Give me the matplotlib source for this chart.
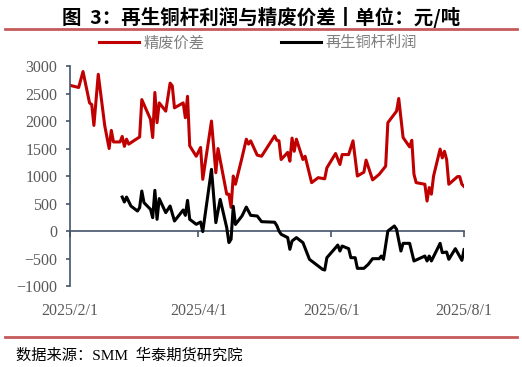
import numpy as np
import pandas as pd
import matplotlib
matplotlib.use("Agg")
import matplotlib.pyplot as plt
import matplotlib.dates as mdates
from matplotlib.lines import Line2D
from matplotlib.font_manager import FontProperties

# 精废价差 (red)
red_dates = ["2025-02-01", "2025-02-05", "2025-02-07", "2025-02-10", "2025-02-11", "2025-02-12",
             "2025-02-14", "2025-02-17", "2025-02-19", "2025-02-20", "2025-02-21", "2025-02-24",
             "2025-02-25", "2025-02-26", "2025-02-27", "2025-02-28", "2025-03-03", "2025-03-05",
             "2025-03-06", "2025-03-10", "2025-03-11", "2025-03-12", "2025-03-13", "2025-03-14",
             "2025-03-17", "2025-03-19", "2025-03-20", "2025-03-21", "2025-03-25", "2025-03-26",
             "2025-03-27", "2025-03-28", "2025-03-31", "2025-04-02", "2025-04-03", "2025-04-07",
             "2025-04-09", "2025-04-10", "2025-04-14", "2025-04-15", "2025-04-16", "2025-04-17",
             "2025-04-18", "2025-04-21", "2025-04-23", "2025-04-24", "2025-04-25", "2025-04-28",
             "2025-04-30", "2025-05-06", "2025-05-07", "2025-05-08", "2025-05-09", "2025-05-12",
             "2025-05-13", "2025-05-14", "2025-05-15", "2025-05-16", "2025-05-19", "2025-05-20",
             "2025-05-23", "2025-05-26", "2025-05-29", "2025-05-30", "2025-06-03", "2025-06-05",
             "2025-06-06", "2025-06-09", "2025-06-11", "2025-06-13", "2025-06-16", "2025-06-17",
             "2025-06-20", "2025-06-23", "2025-06-26", "2025-06-27", "2025-07-01", "2025-07-02",
             "2025-07-04", "2025-07-07", "2025-07-08", "2025-07-09", "2025-07-10", "2025-07-14",
             "2025-07-15", "2025-07-16", "2025-07-17", "2025-07-18", "2025-07-21", "2025-07-22",
             "2025-07-23", "2025-07-24", "2025-07-25", "2025-07-29", "2025-07-30", "2025-07-31",
             "2025-08-01"]
red_vals = [2650, 2610, 2900, 2330, 2300, 1920, 2850, 1910, 1500, 1830, 1620, 1620,
            1720, 1540, 1670, 1580, 1660, 1710, 2390, 2030, 1700, 2520, 1970, 2330,
            2180, 2690, 2640, 2240, 2330, 2060, 2450, 1550, 1360, 1520, 940, 2000,
            1060, 1500, 670, 670, 430, 1000, 850, 1330, 1670, 1580, 1640, 1380,
            1360, 1730, 1650, 1640, 1300, 1430, 1270, 1690, 1450, 1670, 1300, 1360,
            880, 970, 950, 1150, 1410, 1210, 1390, 1390, 1640, 1000, 1070, 1290,
            930, 1030, 1180, 1970, 2180, 2410, 1700, 1530, 1650, 1030, 880, 850,
            545, 790, 670, 1000, 1490, 1330, 1450, 1300, 850, 990, 990, 850, 810]

# 再生铜杆利润 (black)
black_dates = ["2025-02-25", "2025-02-26", "2025-02-27", "2025-03-01", "2025-03-04", "2025-03-05",
               "2025-03-06", "2025-03-07", "2025-03-10", "2025-03-11", "2025-03-12", "2025-03-13",
               "2025-03-14", "2025-03-17", "2025-03-19", "2025-03-21", "2025-03-25", "2025-03-26",
               "2025-03-27", "2025-03-28", "2025-03-31", "2025-04-02", "2025-04-03", "2025-04-07",
               "2025-04-09", "2025-04-11", "2025-04-14", "2025-04-15", "2025-04-16", "2025-04-17",
               "2025-04-18", "2025-04-21", "2025-04-23", "2025-04-25", "2025-04-28", "2025-04-30",
               "2025-05-06", "2025-05-07", "2025-05-08", "2025-05-09", "2025-05-12", "2025-05-13",
               "2025-05-14", "2025-05-16", "2025-05-19", "2025-05-22", "2025-05-26", "2025-05-28",
               "2025-05-29", "2025-05-30", "2025-06-03", "2025-06-04", "2025-06-05", "2025-06-06",
               "2025-06-09", "2025-06-10", "2025-06-12", "2025-06-13", "2025-06-16", "2025-06-18",
               "2025-06-20", "2025-06-23", "2025-06-24", "2025-06-25", "2025-06-27", "2025-06-30",
               "2025-07-01", "2025-07-03", "2025-07-04", "2025-07-07", "2025-07-09", "2025-07-14",
               "2025-07-15", "2025-07-16", "2025-07-17", "2025-07-21", "2025-07-22", "2025-07-24",
               "2025-07-25", "2025-07-28", "2025-07-31", "2025-08-01"]
black_vals = [618, 527, 618, 455, 364, 425, 727, 516, 394, 243, 740, 213,
              589, 334, 455, 182, 382, 285, 558, 213, 122, 164, -11, 1122,
              152, 576, 61, -210, -150, 450, 120, 273, 436, 285, 273, 170,
              160, 100, 0, -60, -120, -333, -182, -120, -211, -515, -636, -697,
              -709, -485, -303, -255, -364, -273, -321, -485, -485, -679, -679, -606,
              -503, -503, -455, -515, 0, 91, 30, -364, -224, -224, -545, -455,
              -545, -455, -545, -224, -394, -382, -515, -321, -533, -339]

x_ticks = ["2025-02-01", "2025-04-01", "2025-06-01", "2025-08-01"]
y_min, y_max, y_step = -1000, 3000, 500

title = "图  3：再生铜杆利润与精废价差丨单位：元/吨"
source = "数据来源：SMM  华泰期货研究院"

plt.rcParams['font.family'] = ['Liberation Serif', 'Noto Sans CJK SC']
cjk = 'Noto Sans CJK SC'
spine_color = '#44546A'
tick_color = '#595959'
rule_color = '#C55A5A'

fig = plt.figure(figsize=(5.22, 3.67), dpi=100)
ax = fig.add_axes([0.134, 0.2207, 0.755, 0.5993])

ax.plot(pd.to_datetime(red_dates), red_vals, color='#C00000', lw=2.2, label='精废价差')
ax.plot(pd.to_datetime(black_dates), black_vals, color='black', lw=2.2, label='再生铜杆利润')

xt = pd.to_datetime(x_ticks)
ax.set_xlim(xt[0], xt[-1])
ax.set_ylim(y_min, y_max)
ax.set_yticks(np.arange(y_min, y_max + 1, y_step))
ax.set_xticks(xt)
ax.xaxis.set_major_formatter(mdates.DateFormatter('%Y/%-m/%-d'))

for s in ['top', 'right', 'bottom']:
    ax.spines[s].set_visible(False)
ax.spines['left'].set_color(spine_color)
ax.spines['left'].set_linewidth(1.2)
ax.tick_params(axis='y', direction='out', length=3, width=1.2, color=spine_color,
               labelcolor=tick_color, labelsize=11.5, pad=6)
ax.tick_params(axis='x', length=0, labelcolor=tick_color, labelsize=11.5, pad=12)

# zero line carrying the date ticks
zero_frac = (0 - y_min) / (y_max - y_min)
sec = ax.secondary_xaxis(zero_frac)
sec.set_xticks(xt)
sec.tick_params(axis='x', direction='out', length=4, width=1.2, color=spine_color,
                labelbottom=False)
sec.spines['bottom'].set_color(spine_color)
sec.spines['bottom'].set_linewidth(1.2)

fig.text(0.5, 0.953, title, ha='center', va='center', fontsize=14,
         fontweight='bold', family=cjk)
fig.add_artist(Line2D([0.01, 0.99], [0.921, 0.921], transform=fig.transFigure,
                      color=rule_color, lw=2))
fig.add_artist(Line2D([0.01, 0.99], [0.083, 0.083], transform=fig.transFigure,
                      color=rule_color, lw=2))

leg = fig.legend(loc='center', bbox_to_anchor=(0.494, 0.883), ncol=2, frameon=False,
                 handlelength=2.6, columnspacing=5.0, handletextpad=0.3,
                 prop=FontProperties(family=cjk, size=11))
for t in leg.get_texts():
    t.set_color('#7F7F7F')

fig.text(0.031, 0.033, source, ha='left', va='center', fontsize=11)

fig.savefig('out.png', dpi=100)
